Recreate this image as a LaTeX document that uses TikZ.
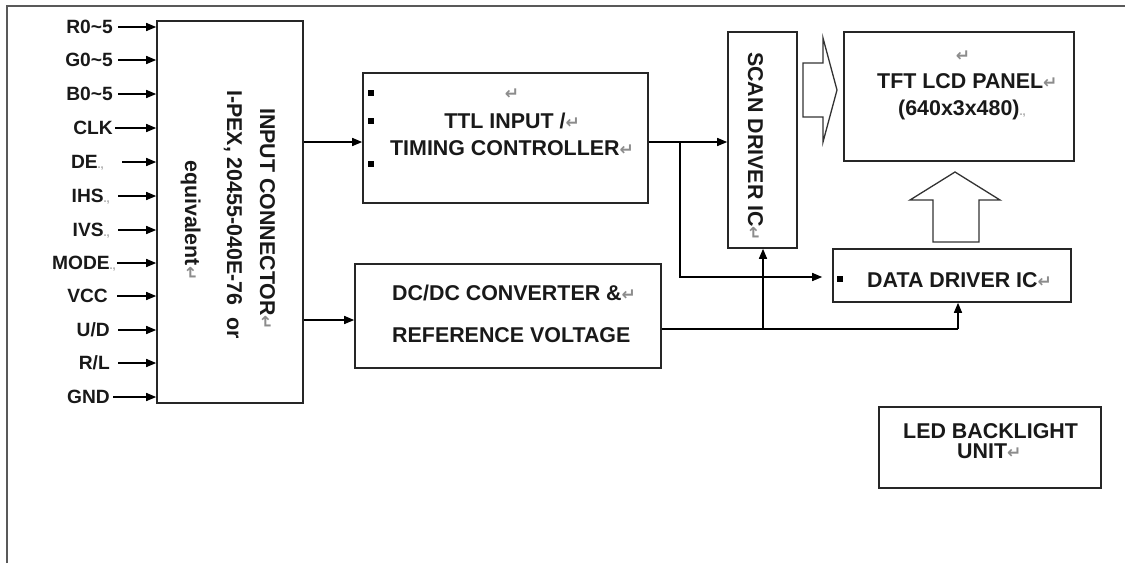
\documentclass[tikz,border=0pt]{standalone}
\usepackage{fontspec}
\setmainfont{Liberation Sans}
\newfontfamily\retfont{DejaVu Sans}
\usetikzlibrary{arrows.meta}
\newcommand\retmark{{\retfont\color{black!45}\fontsize{17}{17}\selectfont ↵}}
\newcommand\dotmark{{\color{black!35}\fontsize{11}{11}\selectfont .,}}
\begin{document}
\begin{tikzpicture}[x=1pt,y=-1pt,
  box/.style={draw=black!85,line width=1.6pt,inner sep=0pt},
  blk/.style={draw=black!80,line width=1.3pt,fill=white,line join=miter},
  wire/.style={line width=1.5pt,black},
  conn/.style={wire,-{Triangle[length=10pt,width=8pt]}},
  txt/.style={font=\bfseries\fontsize{21.4}{24}\selectfont,inner sep=0pt,text=black!90},
  lbl/.style={font=\bfseries\fontsize{19.2}{20}\selectfont,inner sep=0pt,anchor=base east,text=black!90},
  bul/.style={fill=black}]
\useasboundingbox (0,0) rectangle (1125,563);
% outer frame
\draw[line width=2.2pt,black!65] (7,563) -- (7,6) -- (1125,6);

% boxes
\node[box,minimum width=146pt,minimum height=382pt] (ic) at (230,212) {};
\node[box,minimum width=285pt,minimum height=130pt] (ttl) at (505.5,138) {};
\node[box,minimum width=306pt,minimum height=104pt] (dcdc) at (508,316) {};
\node[box,minimum width=69pt,minimum height=216pt] (scan) at (762.5,140) {};
\node[box,minimum width=230pt,minimum height=129pt] (tft) at (959,96.5) {};
\node[box,minimum width=238pt,minimum height=53pt] (data) at (952,275.5) {};
\node[box,minimum width=222pt,minimum height=81pt] (led) at (990,447.5) {};

% input connector texts
\node[txt,rotate=-90,anchor=base west] (ict1) at (260,108) {INPUT CONNECTOR\retmark};
\node[txt,rotate=-90,anchor=base west] (ict2) at (227,90) {I-PEX, 20455-040E-76~ or};
\node[txt,rotate=-90,anchor=base west] (ict3) at (185,160) {equivalent\retmark};

% TTL
\node[txt,anchor=base] (ttlr) at (512,99) {\retmark};
\node[txt,anchor=base] (ttl1) at (512,128.5) {TTL INPUT /\retmark};
\node[txt,anchor=base] (ttl2) at (512,155) {TIMING CONTROLLER\retmark};
\fill[bul] (368,90) rectangle (374,96);
\fill[bul] (368,118) rectangle (374,124);
\fill[bul] (368,161) rectangle (374,167);

% DC/DC
\node[txt,anchor=base west] (dc1) at (392,300) {DC/DC CONVERTER \&\retmark};
\node[txt,anchor=base west] (dc2) at (392,342) {REFERENCE VOLTAGE};

% scan driver
\node[txt,rotate=-90,anchor=base west] (sc1) at (748,52) {SCAN DRIVER IC\retmark};

% TFT
\node[txt,anchor=base] (tftr) at (963,61) {\retmark};
\node[txt,anchor=base west] (tft1) at (877,88) {TFT LCD PANEL\retmark};
\node[txt,anchor=base west] (tft2) at (898,115) {(640x3x480)\dotmark};

% data driver
\node[txt,anchor=base west] (dd1) at (867,287) {DATA DRIVER IC\retmark};
\fill[bul] (837,276) rectangle (843,282);

% LED
\node[txt,anchor=base west] (led1) at (903,438) {LED BACKLIGHT};
\node[txt,anchor=base west] (led2) at (957,458) {UNIT\retmark};

% block arrows
\draw[blk] (803,63) -- (823,63) -- (823,38) -- (837,90) -- (823,142) -- (823,117) -- (803,117) -- cycle;
\draw[blk] (933,242) -- (933,200) -- (910,200) -- (955,172) -- (1000,200) -- (979,200) -- (979,242) -- cycle;

% input labels and arrows
\node[lbl] (L1) at (113,33) {R0\textasciitilde5};
\node[lbl] (L2) at (113,66) {G0\textasciitilde5};
\node[lbl] (L3) at (113,100) {B0\textasciitilde5};
\node[lbl] (L4) at (113,134) {CLK};
\node[lbl] (L5) at (104,168) {DE\dotmark};
\node[lbl] (L6) at (110,202) {IHS\dotmark};
\node[lbl] (L7) at (110,236) {IVS\dotmark};
\node[lbl] (L8) at (116,269) {MODE\dotmark};
\node[lbl] (L9) at (108,302) {VCC};
\node[lbl] (L10) at (110,336) {U/D};
\node[lbl] (L11) at (110,369) {R/L};
\node[lbl] (L12) at (110,403) {GND};
\coordinate (s1) at (118,27);
\coordinate (s2) at (118,60);
\coordinate (s3) at (118,94);
\coordinate (s4) at (115,128);
\coordinate (s5) at (122,162);
\coordinate (s6) at (118,196);
\coordinate (s7) at (118,230);
\coordinate (s8) at (117,263);
\coordinate (s9) at (117,296);
\coordinate (s10) at (118,330);
\coordinate (s11) at (118,363);
\coordinate (s12) at (113,397);
\foreach \i in {1,...,12}{
  \draw[conn] (s\i) -- (s\i -| ic.west);
}

% connections
\coordinate (a1) at (0,142);
\draw[conn] (a1 -| ic.east) -- (a1 -| ttl.west);
\coordinate (a2) at (0,320);
\draw[conn] (a2 -| ic.east) -- (a2 -| dcdc.west);
\draw[conn] (a1 -| ttl.east) -- (a1 -| scan.west);
\coordinate (j1) at (680,142);
\coordinate (j2) at (680,277);
\draw[conn,shorten >=10pt] (j1) -- (j2) -- (j2 -| data.west);
\coordinate (b1) at (0,329);
\coordinate (j3) at (763,329);
\coordinate (j4) at (958,329);
\draw[wire] (b1 -| dcdc.east) -- (j4);
\draw[conn] (j4) -- (j4 |- data.south);
\draw[conn] (j3) -- (j3 |- scan.south);
\end{tikzpicture}
\end{document}
